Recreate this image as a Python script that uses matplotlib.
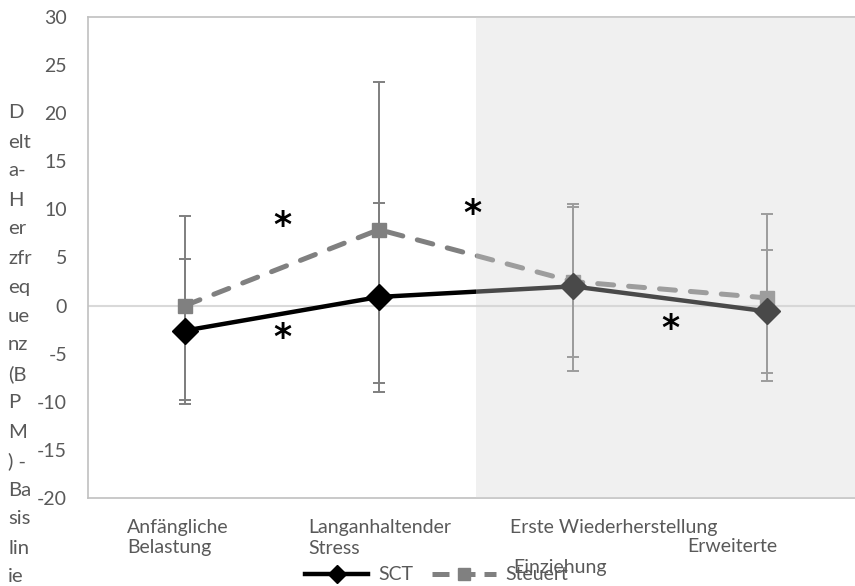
import matplotlib
matplotlib.use("Agg")
import matplotlib.pyplot as plt
from matplotlib.lines import Line2D

plt.rcParams['font.family'] = ['Lato', 'DejaVu Sans']
plt.rcParams['axes.unicode_minus'] = False

# ---- data ----
x_pos = [1, 2, 3, 4]
sct_mean = [-2.6, 0.9, 2.0, -0.6]
sct_err_lo = [7.6, 9.9, 8.8, 6.4]
sct_err_hi = [7.4, 9.8, 8.3, 6.4]
steuert_mean = [0.0, 7.9, 2.5, 0.8]
steuert_err_lo = [9.8, 15.9, 7.8, 8.6]
steuert_err_hi = [9.3, 15.3, 8.1, 8.7]
y_ticks = [-20, -15, -10, -5, 0, 5, 10, 15, 20, 25, 30]
series_names = ["SCT", "Steuert"]
sig_x = [1.5, 1.5, 2.48, 3.5]
sig_y = [8.3, -3.4, 9.5, -2.4]
ylabel_lines = ["D", "elt", "a-", "H", "er", "zfr", "eq", "ue", "nz", "(B", "P", "M", ") -",
                "Ba", "sis", "lin", "ie"]
# category label fragments (text, x_px, y_px)
cat_labels = [("Anfängliche", 127, 527), ("Belastung", 127, 548),
              ("Langanhaltender", 308, 528), ("Stress", 308, 548),
              ("Erste Wiederherstellung", 510, 528), ("Erweiterte", 687, 547),
              ("Einziehung", 513, 568)]

W, H = 855, 586
fig = plt.figure(figsize=(W / 100, H / 100), dpi=100)
ax = fig.add_axes([88 / W, (H - 498) / H, (W - 88) / W, (498 - 17) / H])

txt_col = '#595959'
fs = 14

ax.set_xlim(0.5, 4.454)
ax.set_ylim(-20, 30)
ax.set_yticks(y_ticks)
ax.set_xticks([])
ax.tick_params(axis='y', length=0, pad=15, labelsize=fs, labelcolor=txt_col)
for s in ['left', 'top', 'bottom']:
    ax.spines[s].set_color('#c0c0c0')
    ax.spines[s].set_linewidth(1.2)
ax.spines['right'].set_visible(False)

ax.axhline(0, color='#d9d9d9', lw=1.5, zorder=1)

# error bars
ax.errorbar(x_pos, steuert_mean, yerr=[steuert_err_lo, steuert_err_hi], fmt='none',
            ecolor='#7f7f7f', elinewidth=1.4, capsize=4, capthick=1.4, zorder=2)
ax.errorbar(x_pos, sct_mean, yerr=[sct_err_lo, sct_err_hi], fmt='none',
            ecolor='#7f7f7f', elinewidth=1.4, capsize=4, capthick=1.4, zorder=2)

# lines
l_st, = ax.plot(x_pos, steuert_mean, color='#808080', lw=3.6, dashes=(3.2, 3.0),
                dash_capstyle='round', marker='s', markersize=9.5,
                markerfacecolor='#808080', markeredgecolor='#808080', zorder=3,
                label=series_names[1])
l_sct, = ax.plot(x_pos, sct_mean, color='black', lw=3.2, marker='D', markersize=13,
                 markerfacecolor='black', markeredgecolor='black', zorder=4,
                 label=series_names[0])

# shaded overlay
ax.axvspan(2.5, 4.6, color='#d4d4d4', alpha=0.35, lw=0, zorder=5)

# significance asterisks
for sx, sy in zip(sig_x, sig_y):
    ax.text(sx, sy, '*', fontsize=25, fontweight='bold', ha='center', va='center',
            color='black', zorder=6, family=['DejaVu Sans'])

# y label
for i, t in enumerate(ylabel_lines):
    fig.text(8 / W, 1 - (113 + i * 29) / H, t, fontsize=14.6, color=txt_col,
             ha='left', va='center')

# category labels
for t, xp, yp in cat_labels:
    fig.text(xp / W, 1 - yp / H, t, fontsize=fs, color=txt_col, ha='left', va='center')

# legend
h_sct = Line2D([], [], color='black', lw=3.2, marker='D', markersize=9)
h_st = Line2D([], [], color='#808080', lw=3.6, dashes=(3.4, 1.8), marker='s', markersize=9)
leg = fig.legend([h_sct, h_st], series_names, loc='center left',
                 bbox_to_anchor=(305 / W, 1 - 575 / H), ncol=2, frameon=False,
                 borderpad=0, borderaxespad=0, handlelength=3.25, handletextpad=0.5,
                 columnspacing=1.0, fontsize=fs)
for t in leg.get_texts():
    t.set_color(txt_col)

fig.savefig('out.png', dpi=100)
